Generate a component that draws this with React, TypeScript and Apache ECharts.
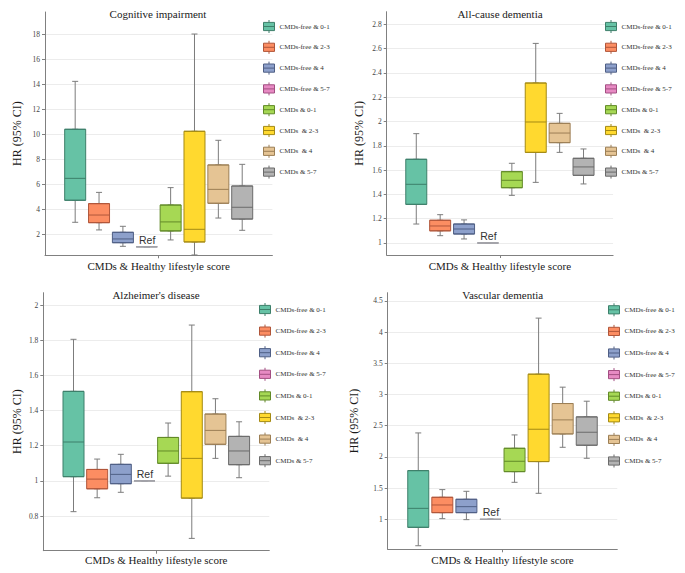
import React, { useEffect, useRef } from 'react';
import * as echarts from 'echarts';

// ---- data ----
const groups = [
  'CMDs-free & 0-1',
  'CMDs-free & 2-3',
  'CMDs-free & 4',
  'CMDs-free & 5-7',
  'CMDs & 0-1',
  'CMDs  & 2-3',
  'CMDs  & 4',
  'CMDs & 5-7',
];
const panelTitles = ['Cognitive impairment', 'All-cause dementia', "Alzheimer's disease", 'Vascular dementia'];
const xAxisName = 'CMDs & Healthy lifestyle score';
const yAxisName = 'HR (95% CI)';
const refLabel = 'Ref';

// [lower whisker, Q1, median, Q3, upper whisker]
const cognitive = [
  [2.96, 4.72, 6.47, 10.39, 14.22],
  [2.35, 2.93, 3.54, 4.45, 5.35],
  [1.04, 1.33, 1.63, 2.16, 2.64],
  [1, 1, 1, 1, 1],
  [1.55, 2.27, 2.99, 4.34, 5.73],
  [0.35, 1.39, 2.4, 10.23, 18.0],
  [3.3, 4.48, 5.59, 7.54, 9.51],
  [2.32, 3.22, 4.16, 5.86, 7.59],
];
const allCause = [
  [1.156, 1.318, 1.483, 1.689, 1.9],
  [1.06, 1.1, 1.14, 1.187, 1.233],
  [1.033, 1.074, 1.115, 1.156, 1.19],
  [1, 1, 1, 1, 1],
  [1.392, 1.455, 1.516, 1.587, 1.656],
  [1.499, 1.746, 1.996, 2.317, 2.643],
  [1.746, 1.826, 1.905, 1.985, 2.067],
  [1.486, 1.557, 1.626, 1.697, 1.774],
];
const alzheimer = [
  [0.825, 1.024, 1.221, 1.509, 1.805],
  [0.904, 0.955, 1.01, 1.065, 1.124],
  [0.935, 0.984, 1.037, 1.094, 1.151],
  [1, 1, 1, 1, 1],
  [1.027, 1.1, 1.17, 1.247, 1.329],
  [0.673, 0.902, 1.128, 1.507, 1.886],
  [1.128, 1.208, 1.287, 1.38, 1.467],
  [1.018, 1.092, 1.17, 1.253, 1.336],
];
const vascular = [
  [0.577, 0.872, 1.176, 1.78, 2.384],
  [1.011, 1.107, 1.23, 1.353, 1.476],
  [0.995, 1.107, 1.203, 1.321, 1.449],
  [1, 1, 1, 1, 1],
  [1.593, 1.764, 1.93, 2.138, 2.352],
  [1.417, 1.925, 2.443, 3.325, 4.223],
  [2.154, 2.368, 2.593, 2.855, 3.117],
  [1.978, 2.187, 2.395, 2.641, 2.892],
];
const panelData = [cognitive, allCause, alzheimer, vascular];
const refValue = 1;

// axis extents and tick steps
const yMins = [0.323, 0.901, 0.603, 0.52];
const yMaxs = [19.76, 2.904, 2.07, 4.63];
const yIntervals = [2, 0.2, 0.2, 0.5];

// ---- styles ----
const fills = ['#66C2A5', '#FC8D62', '#8DA0CB', '#E78AC3', '#A6D854', '#FFD92F', '#E5C494', '#B3B3B3'];
const borders = ['#3d7f6a', '#b0563a', '#4f5f85', '#a34f82', '#628a28', '#a48a14', '#9c7f55', '#6b6b6b'];
const refLineColor = '#a2a2a8';
const whiskerColor = '#7c7c7c';
const axisColor = '#808080';
const gridColor = '#ececec';
const serif = "'Liberation Serif', 'Times New Roman', serif";
const legendIcon = 'path://M0,2.4H11V10.6H0ZM0,6.5H11M5.5,0V2.4M5.5,10.6V13';

const layouts = [
  { left: 45, width: 227.4, top: 12, height: 243.3, boxW: 232.5, tx: 158, ty: 14, lgLeft: 263, lgTop: 19.5, lgGap: 6.8, yGap: 22, xGap: 5 },
  { left: 386.7, width: 226.4, top: 11.7, height: 243.3, boxW: 232.8, tx: 500, ty: 14, lgLeft: 605, lgTop: 19.5, lgGap: 6.8, yGap: 21.5, xGap: 5 },
  { left: 43.3, width: 226, top: 292.7, height: 258, boxW: 230.5, tx: 156, ty: 295, lgLeft: 259, lgTop: 302.5, lgGap: 7.6, yGap: 20.5, xGap: 4 },
  { left: 387.7, width: 229.6, top: 292.7, height: 256.6, boxW: 234.5, tx: 502.7, ty: 295, lgLeft: 608, lgTop: 302.8, lgGap: 7.6, yGap: 28, xGap: 5 },
];

function buildOption() {
  const grid: any[] = [];
  const xAxis: any[] = [];
  const yAxis: any[] = [];
  const series: any[] = [];
  const legend: any[] = [];
  const graphic: any[] = [];

  layouts.forEach((L, p) => {
    const cx = L.left + L.width / 2;
    const frameIdx = p * 3;
    const whiskIdx = p * 3 + 1;
    const boxIdx = p * 3 + 2;
    const gridBase = { containLabel: false, outerBoundsMode: 'none' };
    grid.push({ ...gridBase, left: L.left, top: L.top, width: L.width, height: L.height });
    grid.push({ ...gridBase, left: cx - L.boxW / 2, top: L.top, width: L.boxW, height: L.height });
    grid.push({ ...gridBase, left: cx - L.boxW / 2, top: L.top, width: L.boxW, height: L.height });

    xAxis.push({
      type: 'category',
      gridIndex: frameIdx,
      data: [''],
      boundaryGap: true,
      axisLine: { show: true, lineStyle: { color: axisColor, width: 1 } },
      axisTick: { show: true, alignWithLabel: true, length: 3, lineStyle: { color: axisColor } },
      axisLabel: { show: false },
      splitLine: { show: false },
      name: xAxisName,
      nameLocation: 'middle',
      nameGap: L.xGap,
      nameTextStyle: { fontSize: 11, fontFamily: serif, color: '#1a1a1a' },
    });
    yAxis.push({
      type: 'value',
      gridIndex: frameIdx,
      min: yMins[p],
      max: yMaxs[p],
      minInterval: yIntervals[p],
      maxInterval: yIntervals[p],
      splitNumber: 10,
      axisLine: { show: true, lineStyle: { color: axisColor, width: 1 } },
      axisTick: { show: true, length: 3, lineStyle: { color: axisColor } },
      axisLabel: { show: true, fontSize: 7.5, fontFamily: serif, color: '#444', margin: 5, showMinLabel: false, showMaxLabel: false },
      splitLine: { show: true, showMinLine: false, showMaxLine: false, lineStyle: { color: gridColor, width: 1 } },
      name: yAxisName,
      nameLocation: 'middle',
      nameGap: L.yGap,
      nameTextStyle: { fontSize: 12, fontFamily: serif, color: '#1a1a1a' },
    });
    [whiskIdx, boxIdx].forEach((gi) => {
      xAxis.push({ type: 'category', gridIndex: gi, data: ['g'], boundaryGap: true, show: false });
      yAxis.push({ type: 'value', gridIndex: gi, min: yMins[p], max: yMaxs[p], show: false, splitLine: { show: false } });
    });

    const slot = (0.8 * L.boxW - 2) / groups.length;
    const data = panelData[p];
    groups.forEach((name, g) => {
      const d = data[g];
      series.push({
        type: 'boxplot',
        name: name + ' whisker',
        xAxisIndex: whiskIdx,
        yAxisIndex: whiskIdx,
        data: [d],
        boxWidth: [6, 6],
        silent: true,
        z: 2,
        emphasis: { disabled: true },
        itemStyle: { color: whiskerColor, borderColor: g === 3 ? refLineColor : whiskerColor, borderWidth: 1 },
      });
      const s: any = {
        type: 'boxplot',
        name,
        xAxisIndex: boxIdx,
        yAxisIndex: boxIdx,
        data: [[d[1], d[1], d[2], d[3], d[3]]],
        boxWidth: [21, 21],
        silent: true,
        z: 3,
        emphasis: { disabled: true },
        itemStyle: { color: fills[g], borderColor: g === 3 ? refLineColor : borders[g], borderWidth: 1 },
      };
      if (g === 3) {
        s.markPoint = {
          silent: true,
          animation: false,
          symbol: 'rect',
          symbolSize: 1,
          itemStyle: { color: 'rgba(0,0,0,0)' },
          label: {
            show: true,
            formatter: refLabel,
            position: 'inside',
            offset: [-0.5 * slot, -7],
            fontSize: 10.5,
            fontFamily: "'Liberation Sans', Arial, sans-serif",
            color: '#333',
          },
          data: [{ coord: [0, refValue] }],
        };
      }
      series.push(s);
    });

    legend.push({
      orient: 'vertical',
      left: L.lgLeft,
      top: L.lgTop,
      itemWidth: 11,
      itemHeight: 13,
      itemGap: L.lgGap,
      padding: 0,
      selectedMode: false,
      textStyle: { fontSize: 7, fontFamily: serif, color: '#333' },
      data: groups.map((n, g) => ({
        name: n,
        icon: legendIcon,
        itemStyle: { color: fills[g], borderColor: borders[g], borderWidth: 1 },
      })),
    });

    graphic.push({
      type: 'text',
      x: L.tx,
      y: L.ty,
      silent: true,
      style: {
        text: panelTitles[p],
        fontSize: 11,
        fontFamily: serif,
        fill: '#1a1a1a',
        align: 'center',
        verticalAlign: 'middle',
        textAlign: 'center',
        textVerticalAlign: 'middle',
      },
    });
  });

  return {
    animation: false,
    backgroundColor: '#ffffff',
    grid,
    xAxis,
    yAxis,
    series,
    legend,
    graphic,
    tooltip: { show: false },
  };
}

export default function App() {
  const ref = useRef<HTMLDivElement>(null);
  useEffect(() => {
    if (!ref.current) return;
    const chart = echarts.init(ref.current, undefined, { renderer: 'svg' });
    chart.setOption(buildOption() as any);
    return () => chart.dispose();
  }, []);
  return (
    <div
      ref={ref}
      style={{ position: 'absolute', left: 0, top: 0, width: 685, height: 573, background: '#fff' }}
    />
  );
}
